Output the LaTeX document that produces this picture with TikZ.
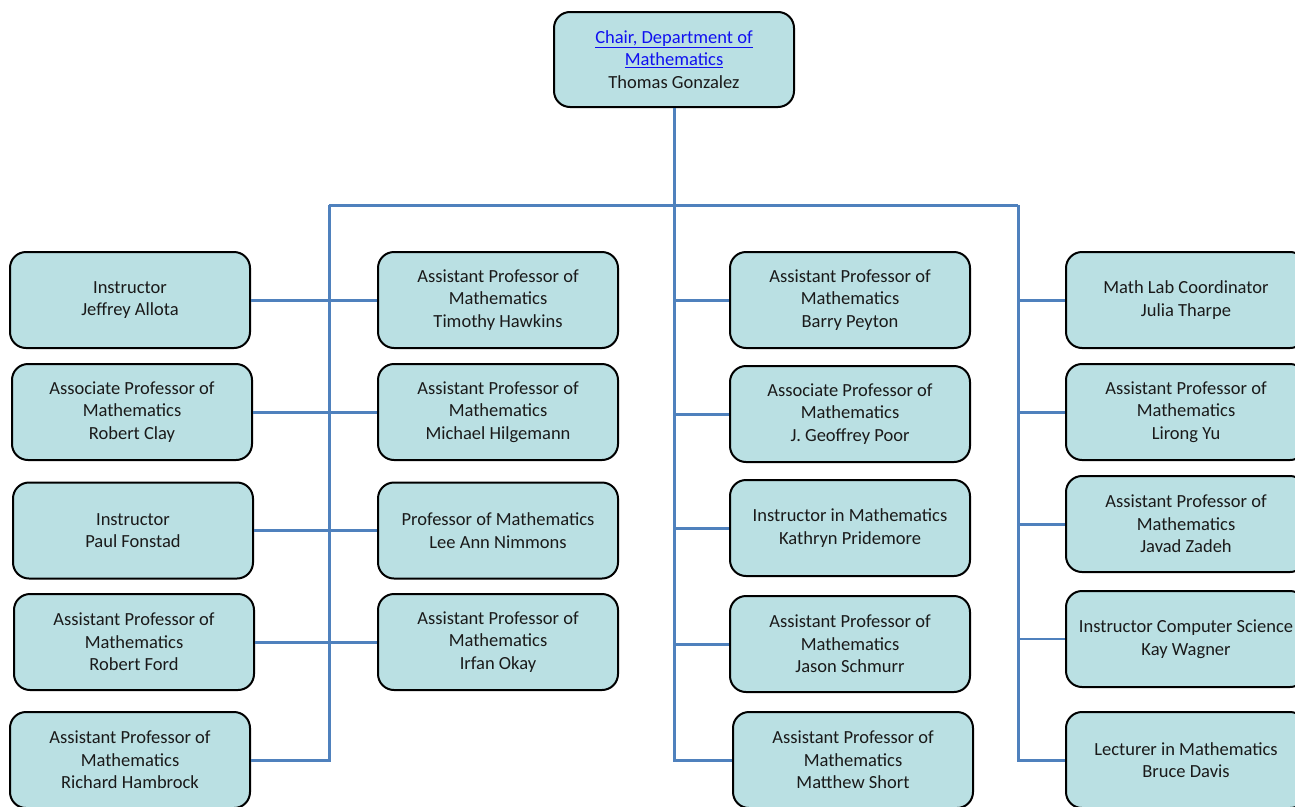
\documentclass[tikz,border=0pt]{standalone}
\usepackage{fontspec}
\setmainfont{Carlito}
\begin{document}
\begin{tikzpicture}[x=1pt,y=-1pt,
  person/.style={draw=black, line width=2pt, fill=boxfill, rounded corners=16pt,
    minimum width=240pt, minimum height=96pt, inner sep=0pt, align=center,
    text=textdark, font=\fontsize{18.5}{22.6}\selectfont,
    execute at begin node={\rule{0pt}{19pt}}},
  link/.style={line width=3pt, draw=linkblue},
  thinlink/.style={line width=1.6pt, draw=linkblue}]
\definecolor{boxfill}{HTML}{BAE0E3}
\definecolor{linkblue}{HTML}{4F81BD}
\definecolor{textdark}{HTML}{1A1A1A}
\definecolor{hyper}{HTML}{1010F0}
\useasboundingbox (0,0) rectangle (1295,806);
\clip (0,0) rectangle (1295,806);

% Chair
\node[person, minimum height=95pt] (chair) at (674,59.5)
  {{\color{hyper}\underline{Chair, Department of}}\\{\color{hyper}\underline{Mathematics}}\\Thomas Gonzalez};

% spine junctions
\coordinate (L) at (329,205);
\coordinate (C) at (674,205);
\coordinate (R) at (1018,205);

% first column
\node[person] (allota)   at (130,300)   {Instructor\\Jeffrey Allota};
\node[person] (clay)     at (132,412)   {Associate Professor of\\Mathematics\\Robert Clay};
\node[person] (fonstad)  at (133,530.5) {Instructor\\Paul Fonstad};
\node[person] (ford)     at (134,642)   {Assistant Professor of\\Mathematics\\Robert Ford};
\node[person] (hambrock) at (130,760)   {Assistant Professor of\\Mathematics\\Richard Hambrock};

% second column
\node[person] (hawkins)   at (498,300)   {Assistant Professor of\\Mathematics\\Timothy Hawkins};
\node[person] (hilgemann) at (498,412)   {Assistant Professor of\\Mathematics\\Michael Hilgemann};
\node[person] (nimmons)   at (498,530.5) {Professor of Mathematics\\Lee Ann Nimmons};
\node[person] (okay)      at (498,642)   {Assistant Professor of\\Mathematics\\Irfan Okay};

% third column
\node[person] (peyton)    at (850,300) {Assistant Professor of\\Mathematics\\Barry Peyton};
\node[person] (poor)      at (850,414) {Associate Professor of\\Mathematics\\J. Geoffrey Poor};
\node[person] (pridemore) at (850,528) {Instructor in Mathematics\\Kathryn Pridemore};
\node[person] (schmurr)   at (850,644) {Assistant Professor of\\Mathematics\\Jason Schmurr};
\node[person] (short)     at (853,760) {Assistant Professor of\\Mathematics\\Matthew Short};

% fourth column
\node[person] (tharpe) at (1186,300) {Math Lab Coordinator\\Julia Tharpe};
\node[person] (yu)     at (1186,412) {Assistant Professor of\\Mathematics\\Lirong Yu};
\node[person] (zadeh)  at (1186,524) {Assistant Professor of\\Mathematics\\Javad Zadeh};
\node[person] (wagner) at (1186,639) {Instructor Computer Science\\Kay Wagner};
\node[person] (davis)  at (1186,760) {Lecturer in Mathematics\\Bruce Davis};

% trunk and crossbar
\draw[link] (chair.south) -- (C);
\draw[link] (L) -- (R);

% left spine
\draw[link] (L) |- (hambrock.east);
\draw[link] (allota.east) -- (hawkins.west);
\draw[link] (clay.east) -- (hilgemann.west);
\draw[link] (fonstad.east) -- (nimmons.west);
\draw[link] (ford.east) -- (okay.west);

% centre spine
\draw[link] (C) |- (short.west);
\draw[link] (C |- peyton.west) -- (peyton.west);
\draw[link] (C |- poor.west) -- (poor.west);
\draw[link] (C |- pridemore.west) -- (pridemore.west);
\draw[link] (C |- schmurr.west) -- (schmurr.west);

% right spine
\draw[link] (R) |- (davis.west);
\draw[link] (R |- tharpe.west) -- (tharpe.west);
\draw[link] (R |- yu.west) -- (yu.west);
\draw[link] (R |- zadeh.west) -- (zadeh.west);
\draw[thinlink] (R |- wagner.west) -- (wagner.west);
\end{tikzpicture}
\end{document}
